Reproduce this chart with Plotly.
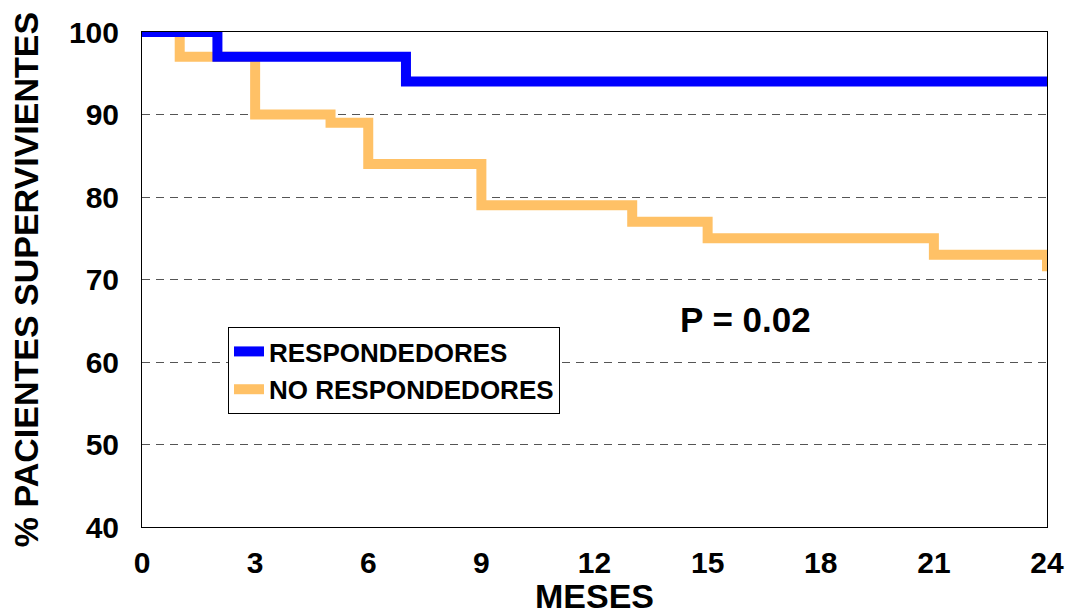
import plotly.graph_objects as go

# Data (Kaplan-Meier step points)
resp_x = [0, 2, 2, 7, 7, 24]
resp_y = [100, 100, 97, 97, 94, 94]
noresp_x = [0, 1, 1, 3, 3, 5, 5, 6, 6, 9, 9, 13, 13, 15, 15, 21, 21, 24, 24]
noresp_y = [100, 100, 97, 97, 90, 90, 89, 89, 84, 84, 79, 79, 77, 77, 75, 75, 73, 73, 71]
x_ticks = [0, 3, 6, 9, 12, 15, 18, 21, 24]
y_ticks = [40, 50, 60, 70, 80, 90, 100]

FONT = "Arial, Liberation Sans, sans-serif"

fig = go.Figure()
fig.add_trace(go.Scatter(x=noresp_x, y=noresp_y, mode="lines", name="<b>NO RESPONDEDORES</b>",
                         line=dict(color="#FFC166", width=10), legendrank=2, legendgroup="b"))
fig.add_trace(go.Scatter(x=resp_x, y=resp_y, mode="lines", name="<b>RESPONDEDORES</b>",
                         line=dict(color="#0000FF", width=10), legendrank=1, legendgroup="a"))

fig.add_annotation(x=16, y=65.2, xref="x", yref="y", text="<b>P = 0.02</b>", showarrow=False,
                   font=dict(family=FONT, size=35, color="black"))

fig.update_layout(
    width=1067, height=615,
    margin=dict(l=142, r=20, t=32, b=88),
    paper_bgcolor="white", plot_bgcolor="white",
    font=dict(family=FONT, color="black"),
    showlegend=True,
    legend=dict(x=0.095, y=0.404, xanchor="left", yanchor="top",
                bordercolor="black", borderwidth=1, bgcolor="white",
                font=dict(family=FONT, size=26, color="black"),
                traceorder="grouped", tracegroupgap=1, itemwidth=30),
    xaxis=dict(range=[0, 24], tickvals=x_ticks, ticktext=[f"<b>{v}</b>" for v in x_ticks],
               showgrid=False, zeroline=False, showline=True, linecolor="black", linewidth=1,
               mirror=True, ticks="", tickfont=dict(family=FONT, size=30),
               ticklabelstandoff=9, automargin=False,
               title=dict(text="<b>MESES</b>", font=dict(family=FONT, size=34), standoff=3)),
    yaxis=dict(range=[40, 100], tickvals=y_ticks, ticktext=[f"<b>{v}</b>" for v in y_ticks],
               showgrid=True, gridcolor="#555555", griddash="8px,6px", gridwidth=1,
               zeroline=False, showline=True, linecolor="black", linewidth=1,
               mirror=True, ticks="", tickfont=dict(family=FONT, size=30),
               ticklabelstandoff=16, automargin=False,
               title=dict(text="<b>% PACIENTES SUPERVIVIENTES</b>", font=dict(family=FONT, size=34), standoff=20)),
)

fig.write_html("out.html")
